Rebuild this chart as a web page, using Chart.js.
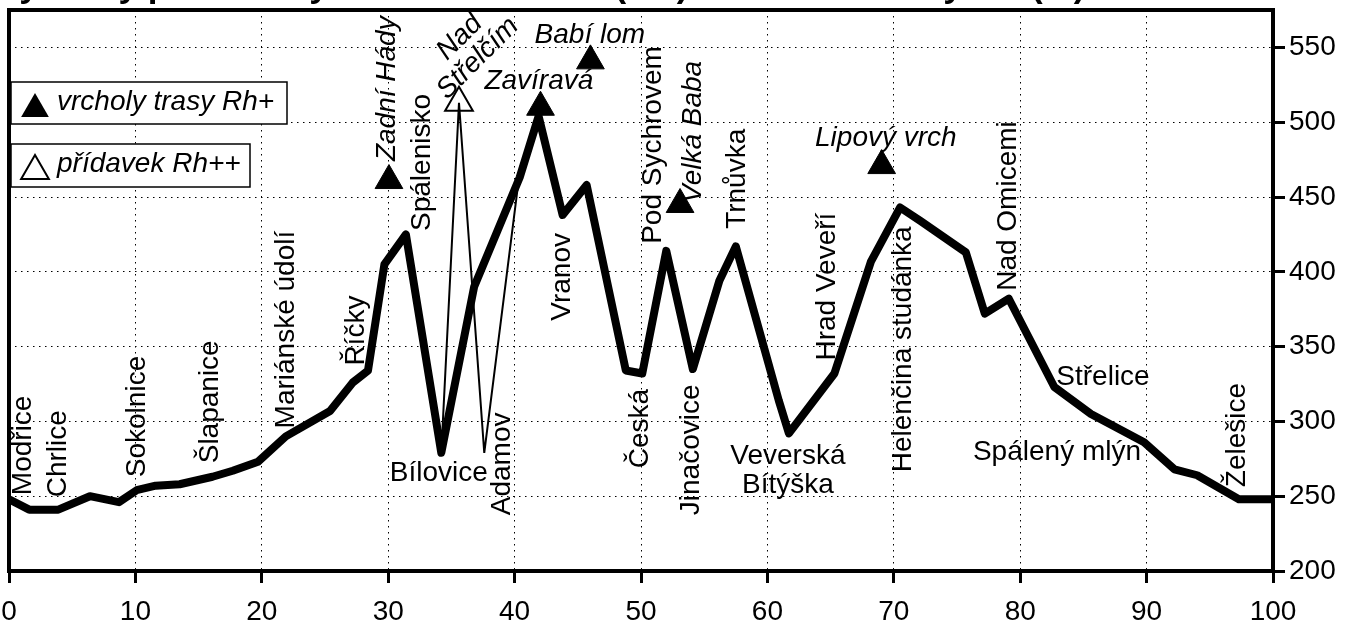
<!DOCTYPE html>
<html>
<head>
<meta charset="utf-8">
<title>Výškový profil trasy</title>
<script src="https://cdn.jsdelivr.net/npm/chart.js@4.4.1/dist/chart.umd.min.js"></script>
<style>
    html, body { margin: 0; padding: 0; background: #fff; }
    #wrap { width: 1358px; height: 627px; }
</style>
</head>
<body>
<div id="wrap"><canvas id="myChart" width="1358" height="627"></canvas></div>
<script>
// profil trasy Rh+ (km / m n. m.)
var trasaKm = [0, 1.6, 3.9, 6.4, 8.7, 10.1, 11.6, 13.5, 16.1, 17.7, 19.7, 21.9, 25.4, 27.2, 28.4,
    29.7, 31.4, 34.2, 36.8, 40.4, 41.9, 43.8, 45.7, 48.8, 50.1, 52.0, 54.1, 56.2, 57.5, 60.9,
    61.7, 65.3, 68.2, 70.5, 72.1, 75.7, 77.2, 79.1, 82.7, 85.6, 89.8, 92.2, 94.0, 97.3, 100];
var trasaVyska = [248, 241, 241, 250, 246, 254, 257, 258, 263, 267, 273, 290, 307, 326, 334,
    405, 425, 279, 390, 463, 504, 438, 458, 334, 332, 414, 335, 394, 417, 314,
    292, 332, 407, 443, 434, 413, 372, 382, 323, 305, 286, 268, 264, 248, 248];

// přídavek Rh++ (tenká čára)
var pridavekKm = [34.2, 35.6, 37.6, 40.3];
var pridavekVyska = [279, 513, 279, 460];

// vrcholy trasy Rh+
var vrcholy = ['Zadní Hády', 'Zavíravá', 'Babí lom', 'Velká Baba', 'Lipový vrch'];
var vrcholyKm = [30.06, 42.05, 46.0, 53.09, 69.04];
var vrcholyVyska = [461, 510, 541, 445, 471];
var vrcholyPopisKm = [29.9, 41.92, 45.95, 54.1, 69.37];
var vrcholyPopisVyska = [474, 527.3, 558, 446, 489.3];

// vrchol přídavku Rh++
var pridavekVrchol = ['Nad', 'Střelčím'];
var pridavekVrcholKm = [35.6];
var pridavekVrcholVyska = [513];
var pridavekPopisKm = [35.66, 37.09];
var pridavekPopisVyska = [556.7, 542.7];

// obce a místa na trase
var mista = ['Modřice', 'Chrlice', 'Sokolnice', 'Šlapanice', 'Mariánské údolí', 'Říčky', 'Spálenisko',
    'Bílovice', 'Adamov', 'Vranov', 'Česká', 'Pod Sychrovem', 'Jinačovice', 'Trnůvka', 'Veverská',
    'Bítýška', 'Hrad Veveří', 'Helenčina studánka', 'Nad Omicemi', 'Střelice', 'Spálený mlýn', 'Želešice'];
var mistaKm = [1.16, 3.93, 10.11, 15.95, 21.97, 27.44, 32.66,
    34.0, 38.99, 43.81, 49.91, 50.94, 53.94, 57.58, 61.62,
    61.62, 64.71, 70.72, 79.03, 86.55, 82.91, 97.15];
var mistaVyska = [250.7, 249.3, 262.7, 272, 295.3, 337.3, 427.3,
    265.3, 237.3, 367.3, 268.7, 418.7, 237.3, 428.7, 276.7,
    257.3, 340.7, 266, 387.3, 329.3, 279.3, 256];

var xTicks = [0, 10, 20, 30, 40, 50, 60, 70, 80, 90, 100];
var yTicks = [200, 250, 300, 350, 400, 450, 500, 550];

var legendaTexty = ['vrcholy trasy Rh+', 'přídavek Rh++'];
var nadpis = 'Výškový profil trasy Rh – vzdálenost (km) a nadmořská výška (m)';

var FONT = '"Liberation Sans", Arial, sans-serif';
var vodorovne = ['Bílovice', 'Veverská', 'Bítýška', 'Střelice', 'Spálený mlýn', 'Zavíravá', 'Babí lom', 'Lipový vrch'];

function body(km, vyska) {
    return km.map(function (v, i) { return { x: v, y: vyska[i] }; });
}

function text(ctx, t, x, y, uhel, zarovnani) {
    ctx.save();
    ctx.translate(x, y);
    ctx.rotate(uhel);
    ctx.textAlign = zarovnani;
    ctx.textBaseline = 'middle';
    ctx.fillText(t, 0, 0);
    ctx.restore();
}

function trojuhelnik(ctx, x, y, r, plny) {
    ctx.beginPath();
    ctx.moveTo(x, y - r);
    ctx.lineTo(x + r * 0.866, y + r * 0.5);
    ctx.lineTo(x - r * 0.866, y + r * 0.5);
    ctx.closePath();
    if (plny) {
        ctx.fillStyle = '#000';
        ctx.fill();
    } else {
        ctx.lineWidth = 2;
        ctx.strokeStyle = '#000';
        ctx.stroke();
    }
}

// rámeček kolem grafu
var ramecek = {
    id: 'ramecek',
    beforeDatasetsDraw: function (chart) {
        var a = chart.chartArea, ctx = chart.ctx;
        ctx.save();
        ctx.lineWidth = 4;
        ctx.strokeStyle = '#000';
        ctx.strokeRect(a.left, a.top, a.right - a.left, a.bottom - a.top);
        ctx.restore();
    }
};

// popisky míst a vrcholů
var popisky = {
    id: 'popisky',
    afterDatasetsDraw: function (chart) {
        var ctx = chart.ctx, sx = chart.scales.x, sy = chart.scales.y;
        ctx.save();
        ctx.fillStyle = '#000';
        ctx.font = '28px ' + FONT;
        mista.forEach(function (m, i) {
            var x = sx.getPixelForValue(mistaKm[i]), y = sy.getPixelForValue(mistaVyska[i]);
            if (vodorovne.indexOf(m) >= 0) {
                text(ctx, m, x, y, 0, 'center');
            } else {
                text(ctx, m, x, y, -Math.PI / 2, 'left');
            }
        });
        ctx.font = 'italic 28px ' + FONT;
        vrcholy.forEach(function (m, i) {
            var x = sx.getPixelForValue(vrcholyPopisKm[i]), y = sy.getPixelForValue(vrcholyPopisVyska[i]);
            if (vodorovne.indexOf(m) >= 0) {
                text(ctx, m, x, y, 0, 'center');
            } else {
                text(ctx, m, x, y, -Math.PI / 2, 'left');
            }
        });
        pridavekVrchol.forEach(function (m, i) {
            text(ctx, m, sx.getPixelForValue(pridavekPopisKm[i]), sy.getPixelForValue(pridavekPopisVyska[i]), -Math.PI / 4, 'center');
        });
        ctx.restore();
    }
};

// legenda v rámečcích + useknutý nadpis
var legenda = {
    id: 'legenda',
    afterDraw: function (chart) {
        var ctx = chart.ctx;
        ctx.save();
        var boxy = [[11, 82, 276, 42], [11, 144, 239, 43]];
        boxy.forEach(function (b, i) {
            ctx.fillStyle = '#fff';
            ctx.fillRect(b[0], b[1], b[2], b[3]);
            ctx.lineWidth = 1.5;
            ctx.strokeStyle = '#000';
            ctx.strokeRect(b[0], b[1], b[2], b[3]);
            trojuhelnik(ctx, 35, b[1] + 27, 16, i === 0);
            ctx.fillStyle = '#000';
            ctx.font = 'italic 28px ' + FONT;
            text(ctx, legendaTexty[i], 57, b[1] + 20, 0, 'left');
        });

        ctx.font = 'bold 35px ' + FONT;
        ctx.fillStyle = '#000';
        ctx.textAlign = 'left';
        ctx.textBaseline = 'alphabetic';
        ctx.fillText(nadpis, -4, -3);
        ctx.restore();
    }
};

var ctx = document.getElementById('myChart').getContext('2d');

window.myChart = new Chart(ctx, {
    type: 'line',
    data: {
        datasets: [
            {
                label: 'vrcholy trasy Rh+',
                data: body(vrcholyKm, vrcholyVyska),
                showLine: false,
                pointStyle: 'triangle',
                pointRadius: 16,
                pointBackgroundColor: '#000',
                pointBorderColor: '#000',
                pointBorderWidth: 1
            },
            {
                label: 'přídavek Rh++',
                data: body(pridavekVrcholKm, pridavekVrcholVyska),
                showLine: false,
                pointStyle: 'triangle',
                pointRadius: 16,
                pointBackgroundColor: 'rgba(0,0,0,0)',
                pointBorderColor: '#000',
                pointBorderWidth: 2
            },
            {
                label: 'přídavek',
                data: body(pridavekKm, pridavekVyska),
                borderColor: '#000',
                borderWidth: 2,
                pointRadius: 0,
                tension: 0
            },
            {
                label: 'trasa',
                data: body(trasaKm, trasaVyska),
                borderColor: '#000',
                borderWidth: 8,
                borderJoinStyle: 'round',
                pointRadius: 0,
                tension: 0
            }
        ]
    },
    options: {
        responsive: false,
        animation: false,
        events: [],
        layout: { autoPadding: false, padding: { left: 9, top: 10, right: 0, bottom: 0 } },
        plugins: {
            legend: { display: false },
            tooltip: { enabled: false },
            title: { display: false }
        },
        scales: {
            x: {
                type: 'linear',
                position: 'bottom',
                min: 0,
                max: 100,
                afterBuildTicks: function (s) {
                    s.ticks = xTicks.map(function (v) { return { value: v }; });
                },
                afterFit: function (s) {
                    s.height = 56;
                    s.paddingLeft = 0;
                    s.paddingRight = 0;
                },
                ticks: { color: '#000', font: { family: FONT, size: 28 }, padding: 12, maxRotation: 0 },
                grid: { color: '#000', lineWidth: 1, tickLength: 12, tickWidth: 3, tickColor: '#000' },
                border: { display: true, color: '#000', width: 4, dash: [1.5, 4.5] }
            },
            y: {
                type: 'linear',
                position: 'right',
                min: 200,
                max: 575,
                afterBuildTicks: function (s) {
                    s.ticks = yTicks.map(function (v) { return { value: v }; });
                },
                afterFit: function (s) {
                    s.width = 85;
                    s.paddingTop = 0;
                    s.paddingBottom = 0;
                },
                ticks: { color: '#000', font: { family: FONT, size: 28 }, padding: 4 },
                grid: { color: '#000', lineWidth: 1, tickLength: 12, tickWidth: 3, tickColor: '#000' },
                border: { display: true, color: '#000', width: 4, dash: [1.5, 4.5] }
            }
        }
    },
    plugins: [ramecek, popisky, legenda]
});
</script>
</body>
</html>
